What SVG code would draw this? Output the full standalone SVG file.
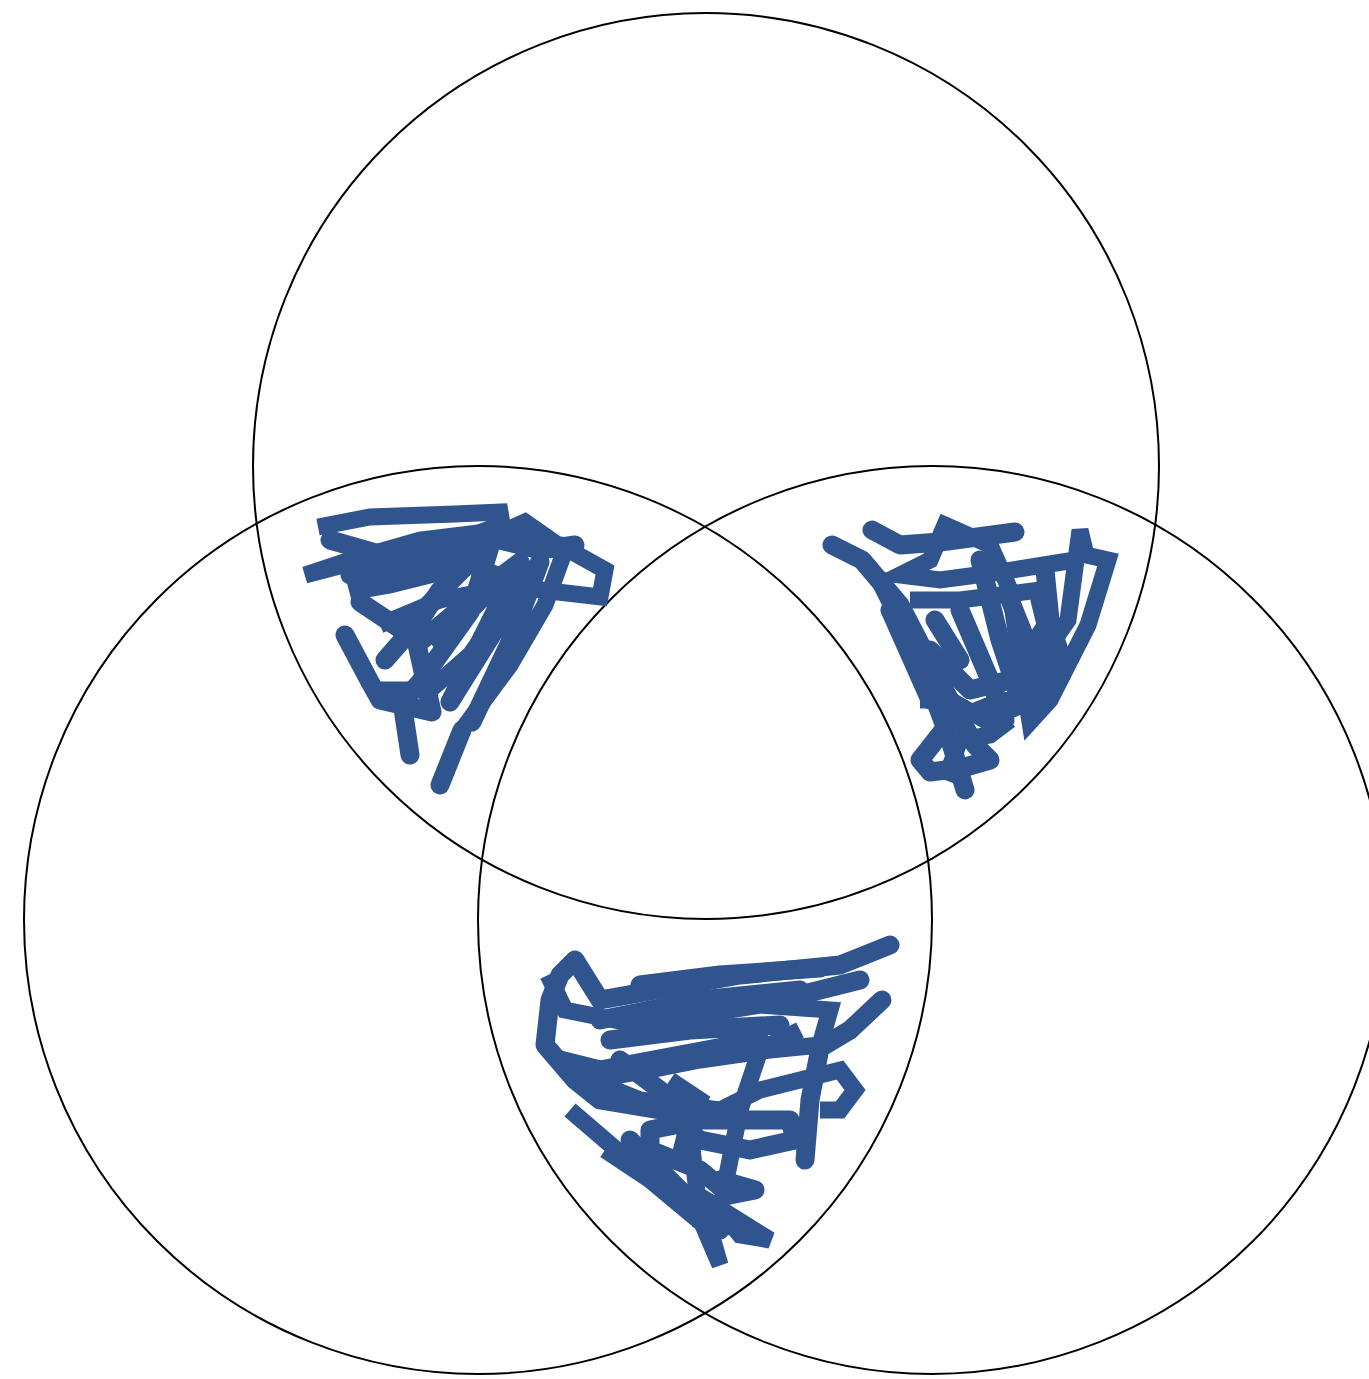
<svg xmlns="http://www.w3.org/2000/svg" width="1369" height="1379" viewBox="0 0 1369 1379">
<style>
.c{fill:none;stroke:#000;stroke-width:2}
.s{fill:none;stroke:#30548e;stroke-width:19;stroke-linecap:round;stroke-linejoin:round}
.m{fill:none;stroke:#30548e;stroke-width:17;stroke-linejoin:miter}
</style>
<rect width="1369" height="1379" fill="#fff"/>
<g id="circles">
<circle id="top" class="c" cx="706" cy="466" r="453"/>
<circle id="left" class="c" cx="478" cy="920" r="454"/>
<circle id="right" class="c" cx="932" cy="920" r="454"/>
</g>
<g id="scribble-left">
<path class="m" d="M318 527 L370 517 L455 514 L500 512 L503 530 L420 540 L350 560 L305 575 L420 545 L520 538 L560 545 L605 570 L600 597 L540 590 L470 565 L390 585 L350 592 L440 560 L525 522 L565 550 L545 605 L510 665 L462 730"/>
<path class="s" d="M462 730 L440 785"/>
<path class="s" d="M345 635 L370 682 L380 700 L432 712 L412 622 L452 580 L492 540 L470 612 L420 682 L402 702 L410 755"/>
<path class="s" d="M360 602 L420 642 L480 592 L520 562 L480 642 L450 702 L500 622 L540 562 L510 642 L472 722"/>
<path class="s" d="M330 540 L400 560 L480 535 L540 550 L575 545"/>
<path class="m" d="M380 625 L440 600 L520 585 L470 655 L430 690 L370 690"/>
<path class="s" d="M350 575 L400 560 L450 545 L490 530 M385 660 L420 620 L440 590 M440 640 L480 600 L520 575"/>
</g>
<g id="scribble-right">
<path class="s" d="M832 545 L862 560 L900 605 L940 682 L975 745 L990 760 L962 768 L930 772 L920 760 L950 722 L1000 702 L1030 700 L1040 660"/>
<path class="s" d="M872 530 L900 545 L940 542 L1015 532"/>
<path class="m" d="M1040 660 L1068 620 L1080 530 L1086 555 L1108 560 L1088 625 L1050 700 L1030 722 L1020 660 L1010 590 L990 545 L945 525 L930 560 L900 575 L940 580 L1000 572 L1075 560"/>
<path class="s" d="M880 580 L920 660 L950 740 L965 790"/>
<path class="m" d="M910 600 L960 600 L1040 590 L1060 650 L1035 700 L985 720 L950 700 L920 700"/>
<path class="s" d="M960 610 L990 680 L1005 720 M1010 600 L1030 650 M930 650 L970 690 L1010 680 L1050 620 L1045 570"/>
<path class="m" d="M945 780 L960 740 L990 735 L1010 720"/>
<path class="s" d="M890 610 L930 700 M980 560 L1000 640 L1020 700 M1040 600 L1050 640 M935 620 L960 660"/>
</g>
<g id="scribble-bottom">
<path class="s" d="M890 945 L840 965 L740 975 L600 1000 L575 960 L560 975 L550 1000 L545 1045 L575 1080 L600 1100 L660 1110 L700 1140 L750 1150 L795 1140 L790 1120 L700 1120 L650 1130 L650 1150 L700 1170 L730 1195 L755 1190 L720 1180"/>
<path class="s" d="M882 1000 L850 1030 L820 1048 L810 1100 L805 1160"/>
<path class="m" d="M548 975 L565 1010 L640 1025 L760 1005 L830 1010 L820 1045 L770 1050 L700 1060 L650 1070 L590 1080 L640 1100 L720 1110 L760 1090 L840 1070 L855 1090 L840 1110 L820 1110"/>
<path class="m" d="M570 1110 L640 1170 L690 1195 L720 1265 L710 1230 L650 1180 L605 1150"/>
<path class="m" d="M690 1190 L770 1240 L740 1235 L720 1210 L740 1110 L760 1050 L800 1030"/>
<path class="s" d="M600 1020 L700 1000 L800 990 M610 1040 L690 1030 L780 1025 M560 1060 L600 1070 L680 1055 L760 1040 M620 1060 L660 1090 L690 1120 L680 1160"/>
<path class="m" d="M670 1080 L700 1100 L690 1130 L700 1220 L745 1230"/>
<path class="s" d="M640 985 L720 975 L820 968 M700 1010 L780 1000 L860 980 M630 1140 L680 1190 L720 1230"/>
</g>
</svg>
